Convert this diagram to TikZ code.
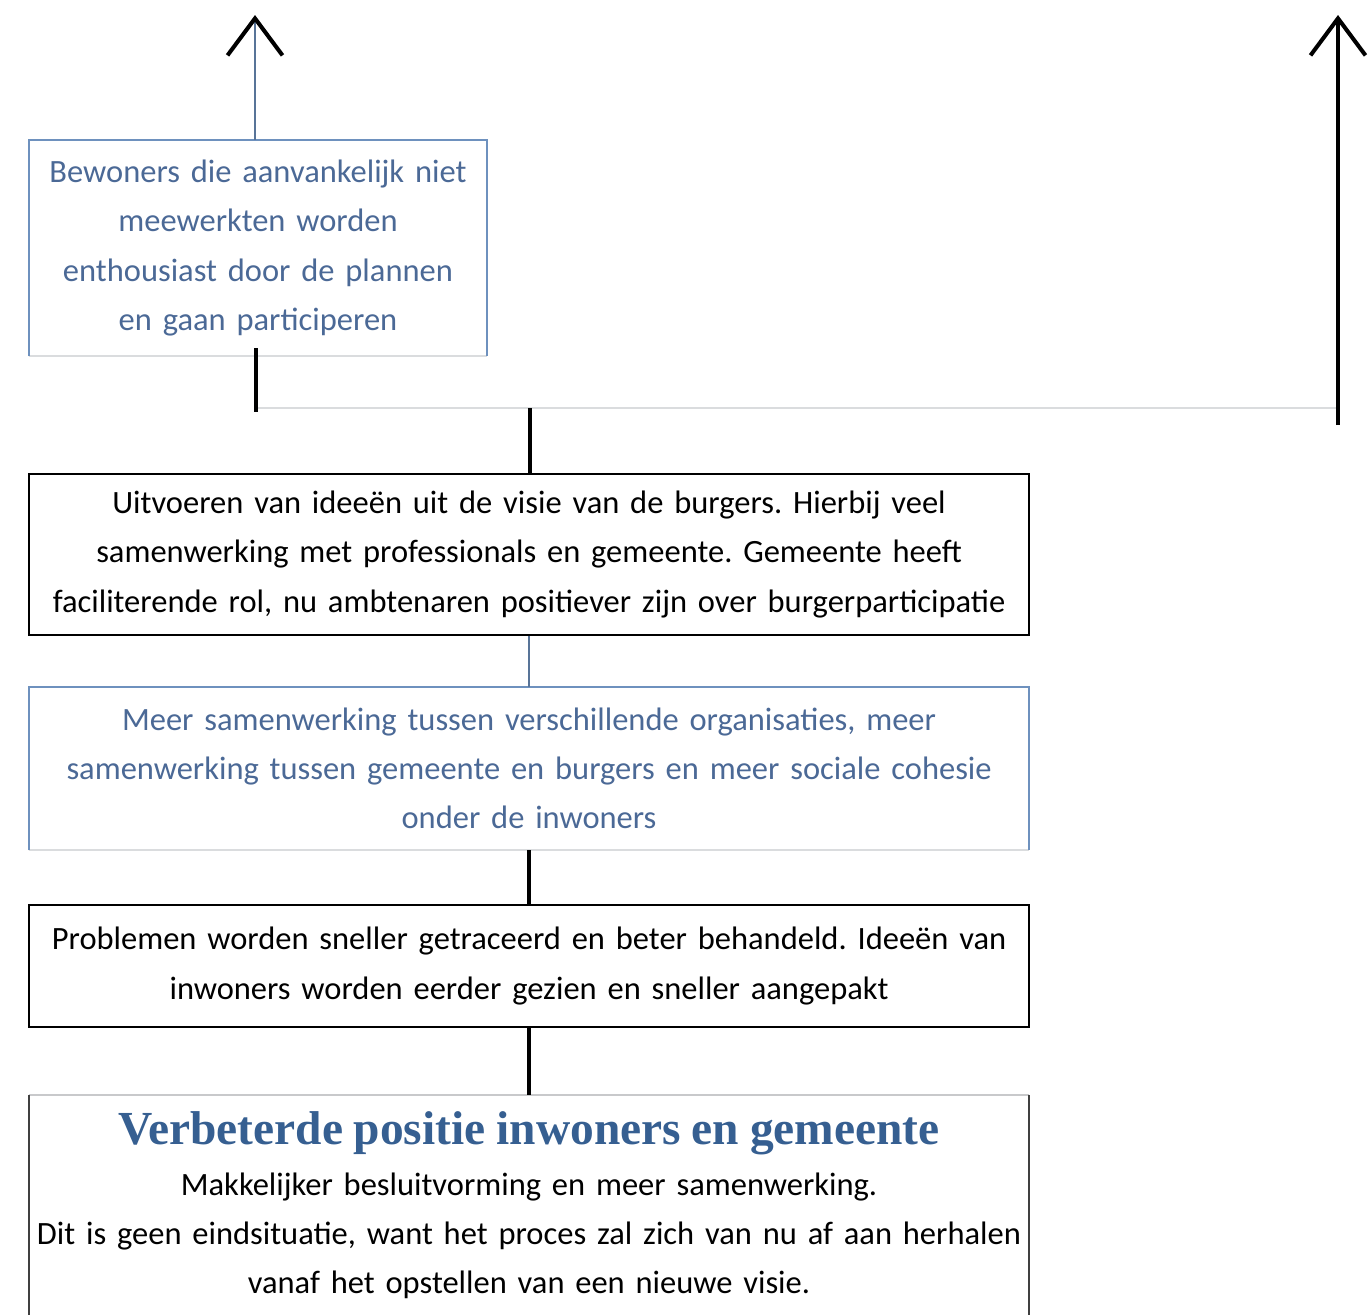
\documentclass[tikz,border=0pt]{standalone}
\usepackage{fontspec}
\setmainfont{Carlito}[WordSpace=0.75]
\newfontfamily\headfont{Liberation Serif}
\usepackage{tikz}
\usetikzlibrary{arrows.meta,positioning,calc}
\usepackage{xcolor}
\frenchspacing

\definecolor{boxblue}{RGB}{110,145,190}
\definecolor{textblue}{RGB}{75,105,150}
\definecolor{headblue}{RGB}{54,95,145}
\definecolor{paleline}{RGB}{218,220,222}

\tikzset{
  stage/.style={minimum width=20cm, text width=19.8cm, align=center, inner sep=0pt,
    font=\fontsize{18.5}{27.9}\selectfont},
  stem/.style={line width=2.3pt, black},
  bluestem/.style={line width=1.4pt, boxblue!80!black},
  chevron/.style={-{Straight Barb[length=0.74cm, width=1.1cm, line width=2.3pt, black]}}
}

\begin{document}
\begin{tikzpicture}[x=0.02cm, y=-0.02cm]
\useasboundingbox (0,0) rectangle (1370,1315);

% Stages (top to bottom)
\node[stage, minimum width=9.16cm, text width=9.1cm, minimum height=4.32cm, text=textblue] (partic) at (258,248)
  {Bewoners die aanvankelijk niet\\meewerkten worden\\enthousiast door de plannen\\en gaan participeren};
\node[stage, minimum height=3.22cm, draw, line width=1.1pt] (uitvoer) at (529,554.5)
  {Uitvoeren van ideeën uit de visie van de burgers. Hierbij veel\\samenwerking met professionals en gemeente. Gemeente heeft\\faciliterende rol, nu ambtenaren positiever zijn over burgerparticipatie};
\node[stage, minimum height=3.26cm, text=textblue] (samen) at (529,768.5)
  {Meer samenwerking tussen verschillende organisaties, meer\\samenwerking tussen gemeente en burgers en meer sociale cohesie\\onder de inwoners};
\node[stage, minimum height=2.44cm, draw, line width=1.1pt] (sneller) at (529,966)
  {Problemen worden sneller getraceerd en beter behandeld. Ideeën van\\inwoners worden eerder gezien en sneller aangepakt};
\node[stage, minimum height=4.4cm] (positie) at (529,1205)
  {{\headfont\bfseries\fontsize{27}{30}\selectfont\color{headblue}Verbeterde positie inwoners en gemeente}\\[1pt]
   Makkelijker besluitvorming en meer samenwerking.\\Dit is geen eindsituatie, want het proces zal zich van nu af aan herhalen\\vanaf het opstellen van een nieuwe visie.};

% Open borders
\draw[paleline, line width=1.1pt] (partic.south west) -- (partic.south east);
\draw[boxblue, line width=1.1pt] (partic.south west) -- (partic.north west) -- (partic.north east) -- (partic.south east);
\draw[paleline, line width=1.1pt] (samen.south west) -- (samen.south east);
\draw[boxblue, line width=1.1pt] (samen.south west) -- (samen.north west) -- (samen.north east) -- (samen.south east);
\draw[paleline!80!gray, line width=1.1pt] (positie.north west) -- (positie.north east);
\draw[black!75, line width=1.1pt] (positie.south west) -- (positie.north west);
\draw[black!75, line width=1.1pt] (positie.south east) -- (positie.north east);

% Junction and arrows
\coordinate (topL) at (255,15);
\coordinate (topR) at (1338,15);
\coordinate (footR) at (1338,425);
\coordinate (jL) at (256,412);
\coordinate (jM) at (530,408);
\coordinate (jR) at (1338,408);
\draw[paleline, line width=1.6pt] (jL |- jM) -- (jR);
\draw[stem] ([yshift=0.16cm]partic.south -| jL) -- (jL);
\draw[stem] (jM) -- (uitvoer.north -| jM);
\draw[bluestem, chevron] (partic.north -| topL) -- (topL);
\draw[stem, chevron] (footR) -- (topR);

% Links between stages
\draw[bluestem] (uitvoer.south) -- (samen.north);
\draw[stem] (samen.south) -- (sneller.north);
\draw[stem] (sneller.south) -- (positie.north);

\end{tikzpicture}
\end{document}
